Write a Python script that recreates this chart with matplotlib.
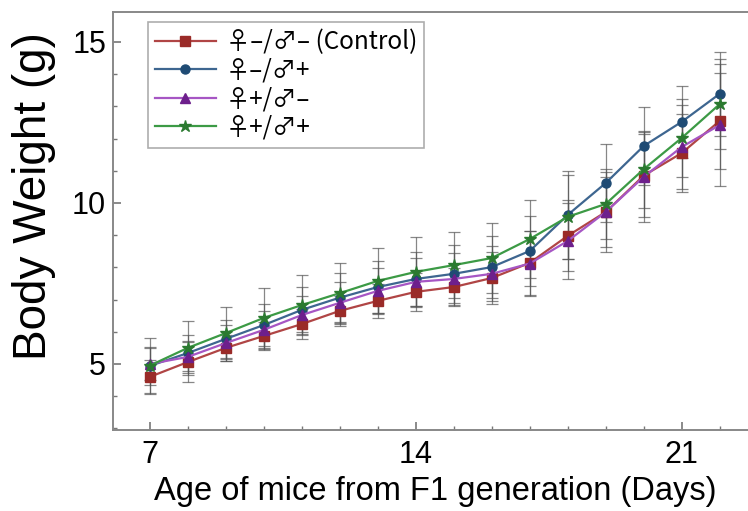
import matplotlib
matplotlib.use("Agg")
import matplotlib.pyplot as plt
from matplotlib.ticker import MultipleLocator
import numpy as np

# Datos
dias = np.arange(7, 23)

control = [4.60, 5.06, 5.50, 5.87, 6.24, 6.65, 6.96, 7.24, 7.39, 7.67, 8.14, 8.98, 9.72, 10.85, 11.55, 12.55]
hembra_neg_macho_pos = [4.94, 5.34, 5.78, 6.21, 6.68, 7.06, 7.39, 7.64, 7.80, 8.01, 8.51, 9.63, 10.62, 11.77, 12.52, 13.39]
hembra_pos_macho_neg = [5.00, 5.22, 5.65, 6.06, 6.52, 6.90, 7.27, 7.55, 7.64, 7.80, 8.12, 8.82, 9.72, 10.81, 11.74, 12.42]
hembra_pos_macho_pos = [4.95, 5.50, 5.96, 6.43, 6.83, 7.20, 7.58, 7.86, 8.07, 8.29, 8.88, 9.57, 9.97, 11.05, 12.02, 13.07]

control_sd = [0.53, 0.62, 0.41, 0.44, 0.46, 0.47, 0.53, 0.59, 0.59, 0.81, 1.00, 1.10, 1.24, 1.30, 1.20, 1.50]
hnmp_sd = [0.60, 0.55, 0.60, 0.65, 0.70, 0.75, 0.80, 0.85, 0.90, 0.95, 1.10, 1.36, 1.21, 1.21, 1.11, 1.30]
hpmn_sd = [0.50, 0.50, 0.55, 0.60, 0.60, 0.65, 0.70, 0.75, 0.80, 0.85, 1.00, 1.18, 1.10, 1.40, 1.30, 1.89]
hpmp_sd = [0.86, 0.84, 0.81, 0.93, 0.93, 0.94, 1.02, 1.08, 1.03, 1.09, 1.21, 1.30, 1.10, 1.20, 1.20, 1.40]

etiquetas = ["♀–/♂– (Control)", "♀–/♂+", "♀+/♂–", "♀+/♂+"]

series = [
    (control, control_sd, "s", "#b04545", "#9a2b28"),
    (hembra_neg_macho_pos, hnmp_sd, "o", "#3e6690", "#1f4b74"),
    (hembra_pos_macho_neg, hpmn_sd, "^", "#a656c4", "#6d1f8c"),
    (hembra_pos_macho_pos, hpmp_sd, "*", "#3c9a45", "#2b7a30"),
]

plt.rcParams['font.family'] = ['Liberation Sans', 'DejaVu Sans']

fig = plt.figure(figsize=(7.48, 5.11), dpi=100)
ax = fig.add_axes([0.151, 0.1585, 0.862, 0.818])

for (vals, sd, mk, col_linea, col_marca), lab in zip(series, etiquetas):
    ax.errorbar(dias, vals, yerr=sd, fmt='none', ecolor='#555555', elinewidth=0.9,
                capsize=4, capthick=0.9, alpha=0.7, zorder=1)
for (vals, sd, mk, col_linea, col_marca), lab in zip(series, etiquetas):
    ms = 9 if mk == "*" else 6.5
    ax.plot(dias, vals, color=col_linea, lw=1.6, marker=mk, markersize=ms,
            markerfacecolor=col_marca, markeredgecolor=col_marca, label=lab, zorder=3)

ax.set_xlim(6.03, 23.0)
ax.set_ylim(2.95, 15.93)
ax.xaxis.set_major_locator(MultipleLocator(7))
ax.xaxis.set_minor_locator(MultipleLocator(1))
ax.yaxis.set_major_locator(MultipleLocator(5))
ax.yaxis.set_minor_locator(MultipleLocator(1))
ax.tick_params(which='both', direction='in', color='#777777', labelsize=22, top=False, right=False)
ax.tick_params(which='major', length=6, width=1.2)
ax.tick_params(which='minor', length=3, width=1.0)
ax.tick_params(axis='x', pad=7)
ax.tick_params(axis='y', pad=5)

for s in ax.spines.values():
    s.set_color('#888888')
    s.set_linewidth(1.4)

ax.set_xlabel("Age of mice from F1 generation (Days)", fontsize=23.5)
ax.set_ylabel("Body Weight (g)", fontsize=33)
ax.xaxis.set_label_coords(0.5, -0.11)
ax.yaxis.set_label_coords(-0.088, 0.56)

leg = ax.legend(loc='upper left', bbox_to_anchor=(0.054, 0.976),
                prop={'family': ['Noto Sans CJK JP'], 'size': 17.5},
                handlelength=2.5, frameon=True, fancybox=False, borderpad=0.3,
                labelspacing=0.1, handletextpad=0.4, borderaxespad=0)
leg.get_frame().set_edgecolor('#999999')
leg.get_frame().set_linewidth(1.2)

fig.savefig("out.png", dpi=100)
